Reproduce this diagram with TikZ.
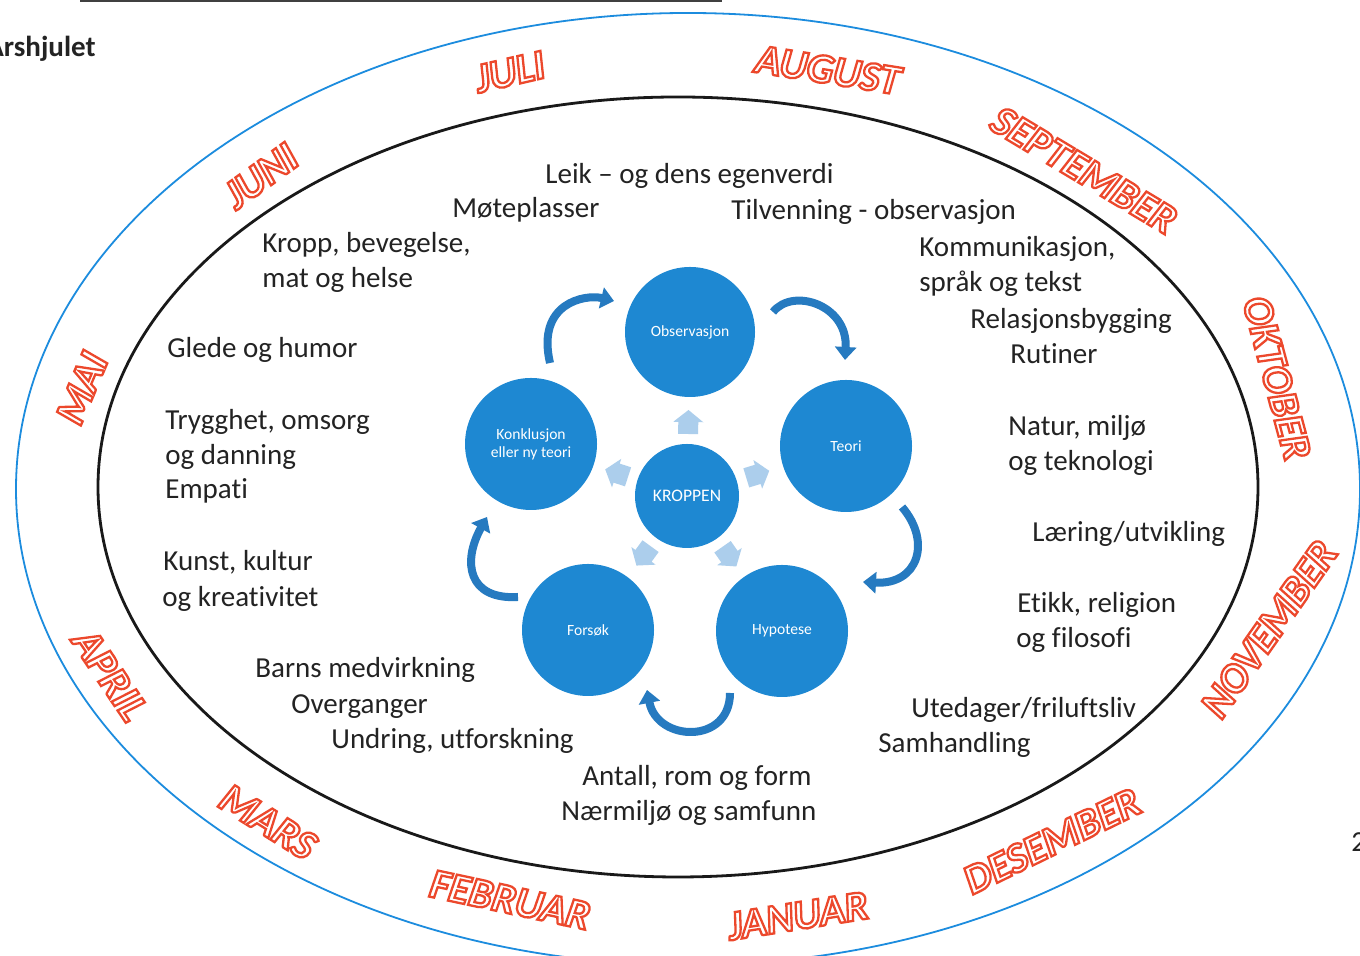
\documentclass[tikz,border=0pt]{standalone}
\usepackage{fontspec}
\setmainfont{Carlito}[Ligatures=NoCommon]
\usetikzlibrary{calc,arrows.meta}
\definecolor{monred}{RGB}{236,72,44}
\definecolor{circblue}{RGB}{30,136,210}
\definecolor{arrblue}{RGB}{38,122,192}
\definecolor{paleblue}{RGB}{172,206,236}
\definecolor{ringblue}{RGB}{28,140,222}
\definecolor{txt}{RGB}{35,35,35}
\newcommand\outlinetext[1]{\special{pdf:literal direct 1 Tr 1.15 w}#1\special{pdf:literal direct 0 Tr}}
\tikzset{
  body/.style={font=\fontsize{14.5}{17.5}\selectfont, text=txt, inner sep=0pt, anchor=base west},
  monthtxt/.style={font=\fontsize{21}{21}\selectfont\bfseries\itshape, inner sep=0pt, text=monred},
  bigcirc/.style={circle, fill=circblue, minimum size=66pt, inner sep=0pt, text=white,
    font=\fontsize{7.8}{9}\selectfont, align=center},
  cyclearrow/.style={draw=arrblue, line width=4pt, -{Triangle[length=6.5pt,width=10.5pt]}},
  palearrow/.style={fill=paleblue},
}
\newcommand\monthlabel[5]{%
  \node[monthtxt, rotate=#4] (#1) at (#2,#3) {\outlinetext{#5}};
}
\begin{document}
\begin{tikzpicture}[x=0.5pt,y=0.5pt]
\useasboundingbox (0,0) rectangle (1360,956);
\fill[white] (0,0) rectangle (1360,956);
% top rule and header
\draw[line width=1.5pt, black!75] (80,955) -- (722,955);
\node[font=\fontsize{14.5}{17.5}\selectfont\bfseries, text=txt, inner sep=0pt, anchor=base east] (title) at (96,899) {Årshjulet};
\node[body] (pagenum) at (1351,104) {2};
% ellipses
\draw[ringblue, line width=0.9pt] (688,467) ellipse [x radius=672, y radius=476];
\draw[black!90, line width=1.4pt] (678,469) ellipse [x radius=580, y radius=390];
% months
\monthlabel{juli}{510}{884}{13}{JULI}
\monthlabel{aug}{828}{886}{-9}{AUGUST}
\monthlabel{sep}{1084}{786}{-31}{SEPTEMBER}
\monthlabel{okt}{1277}{578}{-75}{OKTOBER}
\monthlabel{nov}{1269}{327}{55}{NOVEMBER}
\monthlabel{des}{1052}{115}{26}{DESEMBER}
\monthlabel{jan}{798}{40}{9}{JANUAR}
\monthlabel{feb}{510}{56}{-12}{FEBRUAR}
\monthlabel{mar}{268}{134}{-32}{MARS}
\monthlabel{apr}{110}{281}{-56}{APRIL}
\monthlabel{mai}{82}{568}{67}{MAI}
\monthlabel{jun}{261}{780}{36}{JUNI}
% body texts
\node[body] (t1) at (545,772) {Leik – og dens egenverdi};
\node[body] (t2) at (452,738) {Møteplasser};
\node[body] (t3) at (731,736) {Tilvenning - observasjon};
\node[body] (t4) at (262,703) {Kropp, bevegelse,};
\node[body] (t5) at (262,668) {mat og helse};
\node[body] (t6) at (919,699) {Kommunikasjon,};
\node[body] (t7) at (919,664) {språk og tekst};
\node[body] (t8) at (970,627) {Relasjonsbygging};
\node[body] (t9) at (1010,592) {Rutiner};
\node[body] (t10) at (167,598) {Glede og humor};
\node[body] (t11) at (165,526) {Trygghet, omsorg};
\node[body] (t12) at (165,491) {og danning};
\node[body] (t13) at (165,457) {Empati};
\node[body] (t14) at (1008,520) {Natur, miljø};
\node[body] (t15) at (1008,485) {og teknologi};
\node[body] (t16) at (1032,414) {Læring/utvikling};
\node[body] (t17) at (163,385) {Kunst, kultur};
\node[body] (t18) at (162,349) {og kreativitet};
\node[body] (t19) at (1017,343) {Etikk, religion};
\node[body] (t20) at (1016,308) {og filosofi};
\node[body] (t21) at (255,278) {Barns medvirkning};
\node[body] (t22) at (291,242) {Overganger};
\node[body] (t23) at (331,207) {Undring, utforskning};
\node[body] (t24) at (911,238) {Utedager/friluftsliv};
\node[body] (t25) at (878,203) {Samhandling};
\node[body] (t26) at (582,170) {Antall, rom og form};
\node[body] (t27) at (561,135) {Nærmiljø og samfunn};
% cycle circles
\node[bigcirc, minimum size=65pt] (obs) at (690,624) {Observasjon};
\node[bigcirc] (teori) at (846,510) {Teori};
\node[bigcirc] (hyp) at (782,325) {Hypotese};
\node[bigcirc] (fors) at (588,326) {Forsøk};
\node[bigcirc] (konk) at (531,512) {Konklusjon\\eller ny teori};
\node[bigcirc, minimum size=52pt, font=\fontsize{8.8}{10}\selectfont] (krop) at (687,460) {KROPPEN};
% pale arrows from the centre
\foreach \a in {89,17,-55,-126,162}{%
  \fill[palearrow, shift={($(krop)+(\a:74)$)}, rotate=\a-90]
    (-15,0) -- (0,12) -- (15,0) -- (10,0) -- (10,-12) -- (-10,-12) -- (-10,0) -- cycle;}
% curved cycle arrows
\coordinate (a1s) at ($(konk)+(19,81)$);
\coordinate (a1e) at ($(obs)+(-76,31)$);
\coordinate (a2s) at ($(obs)+(83,20)$);
\coordinate (a2e) at ($(teori)+(-1,86)$);
\coordinate (a3s) at ($(teori)+(56,-61)$);
\coordinate (a3e) at ($(hyp)+(81,49)$);
\coordinate (a4s) at ($(hyp)+(-52,-62)$);
\coordinate (a4e) at ($(fors)+(59,-60)$);
\coordinate (a5s) at ($(fors)+(-70,33)$);
\coordinate (a5e) at ($(konk)+(-44,-73)$);
\draw[cyclearrow] (a1s) .. controls +(-14,60) and +(-29,7) .. (a1e);
\draw[cyclearrow] (a2s) .. controls +(20,25) and +(3,55) .. (a2e);
\draw[cyclearrow] (a3s) .. controls +(30,-35) and +(55,-3) .. (a3e);
\draw[cyclearrow] (a4s) .. controls +(0,-52) and +(10,-52) .. (a4e);
\draw[cyclearrow] (a5s) .. controls +(-50,-3) and +(-25,-45) .. (a5e);
\end{tikzpicture}
\end{document}
